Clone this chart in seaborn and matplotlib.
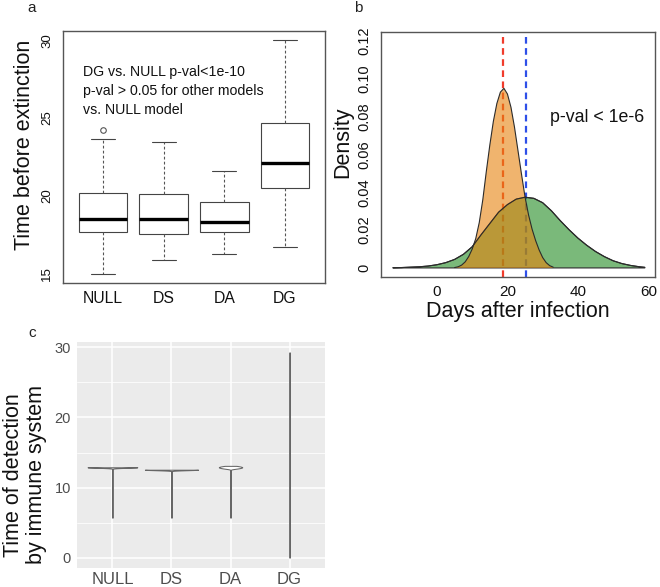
import numpy as np
import pandas as pd
import matplotlib
matplotlib.use("Agg")
import matplotlib.pyplot as plt
import seaborn as sns

# ---------------- data ----------------
models = ["NULL", "DS", "DA", "DG"]

# panel a: time before extinction (box summaries)
ext_low_whisker = [14.96, 15.85, 16.24, 16.69]
ext_q1 = [17.65, 17.57, 17.67, 20.48]
ext_median = [18.51, 18.51, 18.29, 22.13]
ext_q3 = [20.18, 20.11, 19.60, 24.69]
ext_high_whisker = [23.64, 23.45, 21.63, 30.00]
outlier_models = ["NULL"]
outlier_values = [24.22]

# panel b: density curves (days after infection)
orange_days = [5, 6, 7, 8, 9, 10, 11, 12, 13, 14, 15, 16, 17, 18, 19, 20, 21,
               22, 23, 24, 25, 26, 27, 28, 29, 30, 31, 32, 33]
orange_density = [0.0002, 0.0006, 0.0015, 0.0032, 0.0060, 0.0100, 0.0155,
                  0.0240, 0.0360, 0.0510, 0.0650, 0.0775, 0.0870, 0.0930,
                  0.0950, 0.0920, 0.0850, 0.0745, 0.0620, 0.0495, 0.0375,
                  0.0280, 0.0205, 0.0145, 0.0095, 0.0055, 0.0028, 0.0012,
                  0.0004]
green_days = [-12.5, -10, -7.5, -5, -2.5, 0, 2.5, 5, 7.5, 10, 12.5, 15, 17.5,
              20, 22.5, 25, 27.5, 30, 32.5, 35, 37.5, 40, 42.5, 45, 47.5, 50,
              52.5, 55, 57.5, 59]
green_density = [0.0001, 0.0002, 0.0004, 0.0006, 0.0010, 0.0017, 0.0028,
                 0.0045, 0.0072, 0.0112, 0.0175, 0.0235, 0.0295, 0.0335,
                 0.0364, 0.0374, 0.0368, 0.0345, 0.0302, 0.0250, 0.0202,
                 0.0158, 0.0120, 0.0087, 0.0060, 0.0038, 0.0023, 0.0013,
                 0.0006, 0.0003]
red_line_day = 18.6
blue_line_day = 25.4
density_ticks = [0, 0.02, 0.04, 0.06, 0.08, 0.10, 0.12]
density_tick_labels = ["0", "0.02", "0.04", "0.06", "0.08", "0.10", "0.12"]
day_ticks = [0, 20, 40, 60]

# panel c: time of detection by immune system (values and their counts)
null_detect_values = [5.7, 7.0, 8.5, 10.0, 11.5, 12.9]
null_detect_counts = [1, 1, 1, 1, 1, 200]
ds_detect_values = [5.7, 7.0, 8.5, 10.0, 11.5, 12.55]
ds_detect_counts = [1, 1, 1, 1, 1, 200]
da_detect_values = [5.7, 7.0, 8.5, 10.0, 11.5, 12.7, 12.8, 12.9, 13.0, 13.1]
da_detect_counts = [1, 1, 1, 1, 1, 30, 50, 60, 50, 30]
dg_detect_values = [0.0, 1.4, 2.9, 4.3, 5.8, 7.2, 8.6, 10.0, 11.3, 12.6, 13.9,
                    15.2, 16.5, 17.8, 19.2, 20.6, 22.0, 23.5, 25.0, 26.5,
                    28.0, 29.3]
dg_detect_counts = [1] * len(dg_detect_values)

# ---------------- style ----------------
sns.set_style("white")
plt.rcParams["font.family"] = ["Liberation Sans", "DejaVu Sans"]

W, H = 660, 587
fig = plt.figure(figsize=(W / 100, H / 100), dpi=100)


def fx(px):
    return px / W


def fy(py):
    return 1 - py / H


edge = "#555555"

# ---------------- panel a ----------------
ax_a = fig.add_axes([fx(63), fy(283), (325 - 63) / W, (283 - 31) / H])
rows = []
for m, lo, q1, md, q3, hi in zip(models, ext_low_whisker, ext_q1, ext_median,
                                 ext_q3, ext_high_whisker):
    for v in (lo, q1, md, q3, hi):
        rows.append({"model": m, "time": v})
df_a = pd.DataFrame(rows)
sns.boxplot(data=df_a, x="model", y="time", order=models, ax=ax_a,
            color="white", linecolor="#444444", linewidth=0.8, width=0.8,
            whis=(0, 100), fliersize=0,
            whiskerprops=dict(linestyle=(0, (2.5, 2.0)), linewidth=0.8,
                              color="#555555"),
            capprops=dict(linewidth=0.8, color="#444444"),
            medianprops=dict(color="black", linewidth=2.4))
sns.stripplot(x=outlier_models, y=outlier_values, order=models, ax=ax_a,
              jitter=False, color="white", edgecolor="#555555",
              linewidth=0.8, size=4)
ax_a.set_xlim(-0.66, 3.66)
ax_a.set_ylim(14.4, 30.6)
ax_a.set_yticks([15, 20, 25, 30])
ax_a.set_yticklabels(["15", "20", "25", "30"], rotation=90, va="center",
                     fontsize=9.5)
ax_a.set_xticks(range(len(models)))
ax_a.set_xticklabels(models, fontsize=11.3)
ax_a.set_xlabel("")
ax_a.set_ylabel("")
for s in ax_a.spines.values():
    s.set_visible(True)
    s.set_color(edge)
    s.set_linewidth(1.0)
ax_a.tick_params(axis="both", direction="out", length=4, width=0.9,
                 color=edge, labelcolor="#111111")
ax_a.tick_params(axis="x", pad=2)
ax_a.tick_params(axis="y", pad=3)
fig.text(fx(25), fy(145), "Time before extinction", rotation=90,
         ha="center", va="center", fontsize=15.5, color="#111111")
fig.text(fx(83), fy(72), "DG vs. NULL p-val<1e-10", ha="left", va="center",
         fontsize=10.2, color="#111111")
fig.text(fx(83), fy(91), "p-val > 0.05 for other models", ha="left",
         va="center", fontsize=10.2, color="#111111")
fig.text(fx(83), fy(110), "vs. NULL model", ha="left", va="center",
         fontsize=10.2, color="#111111")
fig.text(fx(32), fy(8), "a", ha="center", va="center", fontsize=11,
         color="#222222")

# ---------------- panel b ----------------
ax_b = fig.add_axes([fx(381), fy(277), (655 - 381) / W, (277 - 32) / H])
ax_b.axvline(red_line_day, color="#F03C2C", lw=1.6, ls=(0, (3, 2)), zorder=1)
ax_b.axvline(blue_line_day, color="#2E4FE8", lw=1.6, ls=(0, (3, 2)),
             zorder=1)
ax_b.fill_between(green_days, green_density, 0, facecolor="#228B22",
                  alpha=0.6, edgecolor="none", zorder=2)
ax_b.fill_between(green_days, green_density, 0, facecolor="none",
                  edgecolor="#2b2b2b", lw=0.8, zorder=2)
ax_b.fill_between(orange_days, orange_density, 0, facecolor="#E6820D",
                  alpha=0.6, edgecolor="none", zorder=3)
sns.lineplot(x=orange_days, y=orange_density, ax=ax_b, color="#2b2b2b",
             lw=0.8, zorder=4)
sns.lineplot(x=green_days, y=green_density, ax=ax_b, color="#2b2b2b",
             lw=0.8, zorder=4)
ax_b.set_xlim(-15.9, 61.9)
ax_b.set_ylim(-0.0048, 0.1248)
ax_b.set_xticks(day_ticks)
ax_b.set_xticklabels([str(t) for t in day_ticks], fontsize=11)
ax_b.set_yticks(density_ticks)
ax_b.set_yticklabels(density_tick_labels, rotation=90, va="center",
                     fontsize=10.5)
ax_b.set_xlabel("")
ax_b.set_ylabel("")
for s in ax_b.spines.values():
    s.set_visible(True)
    s.set_color(edge)
    s.set_linewidth(1.0)
ax_b.tick_params(axis="both", direction="out", length=4, width=0.9,
                 color=edge, labelcolor="#111111")
ax_b.tick_params(axis="x", pad=2)
ax_b.tick_params(axis="y", pad=3)
fig.text(fx(343), fy(142), "Density", rotation=90, ha="center", va="center",
         fontsize=15.5, color="#111111")
fig.text(fx(518), fy(311), "Days after infection", ha="center", va="center",
         fontsize=15.5, color="#111111")
fig.text(fx(550), fy(118), "p-val < 1e-6", ha="left", va="center",
         fontsize=12.8, color="#111111")
fig.text(fx(358), fy(8), "b", ha="center", va="center", fontsize=11,
         color="#222222")

# ---------------- panel c ----------------
ax_c = fig.add_axes([fx(77), fy(568), (325 - 77) / W, (568 - 342) / H])
rows = []
for m, vals, cnts in [("NULL", null_detect_values, null_detect_counts),
                      ("DS", ds_detect_values, ds_detect_counts),
                      ("DA", da_detect_values, da_detect_counts),
                      ("DG", dg_detect_values, dg_detect_counts)]:
    for v in np.repeat(vals, cnts):
        rows.append({"model": m, "time": float(v)})
df_c = pd.DataFrame(rows)
ax_c.set_facecolor("#EBEBEB")
sns.violinplot(data=df_c, x="model", y="time", order=models, ax=ax_c,
               color="white", linecolor="#666666", linewidth=0.75,
               inner=None, cut=0, bw_method=0.1, density_norm="area",
               width=0.9, gridsize=600, saturation=1)
ax_c.set_xlim(-0.6, 3.6)
ax_c.set_ylim(-1.47, 30.77)
ax_c.set_yticks([0, 10, 20, 30])
ax_c.set_yticks([5, 15, 25], minor=True)
ax_c.set_xticks(range(len(models)))
ax_c.set_xticklabels(models, fontsize=12)
ax_c.set_yticklabels(["0", "10", "20", "30"], fontsize=10.5)
ax_c.grid(True, which="major", color="white", lw=1.1)
ax_c.grid(True, which="minor", axis="y", color="white", lw=0.55)
ax_c.set_axisbelow(True)
for s in ax_c.spines.values():
    s.set_visible(False)
ax_c.tick_params(axis="both", which="major", direction="out", length=2.5,
                 width=0.8, color="#444444", labelcolor="#4D4D4D", pad=2)
ax_c.tick_params(axis="x", which="major", pad=0.5)
ax_c.tick_params(axis="both", which="minor", length=0)
ax_c.set_xlabel("")
ax_c.set_ylabel("")
fig.text(fx(25), fy(475), "Time of detection\nby immune system",
         rotation=90, ha="center", va="center", fontsize=15.5,
         linespacing=1.15, color="#111111")
fig.text(fx(32), fy(333), "c", ha="center", va="center", fontsize=11,
         color="#222222")

fig.savefig("out.png", dpi=100)
